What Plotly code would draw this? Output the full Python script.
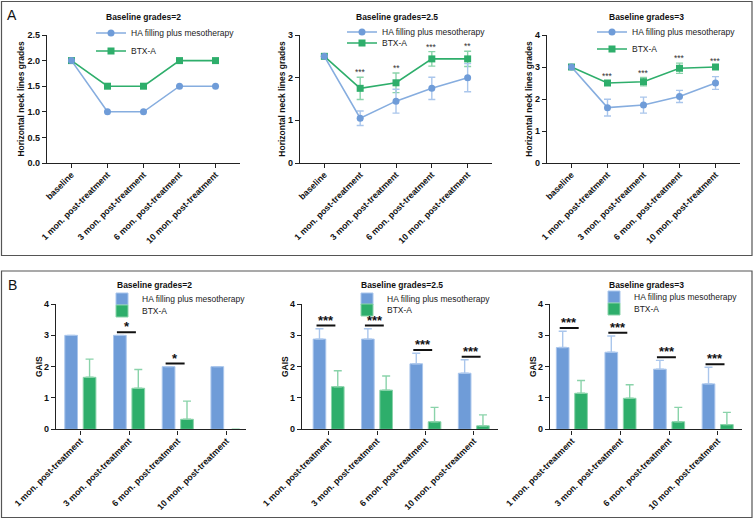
import plotly.graph_objects as go

# ---------------- data ----------------
cats_A = ["baseline", "1 mon. post-treatment", "3 mon. post-treatment",
          "6 mon. post-treatment", "10 mon. post-treatment"]
cats_B = ["1 mon. post-treatment", "3 mon. post-treatment",
          "6 mon. post-treatment", "10 mon. post-treatment"]
titles = ["Baseline grades=2", "Baseline grades=2.5", "Baseline grades=3"]
series_names = ["HA filling plus mesotherapy", "BTX-A"]

# Panel A: horizontal neck lines grades (mean, SD)
A1_ha = [2.0, 1.0, 1.0, 1.5, 1.5]
A1_ha_sd = [0, 0, 0, 0, 0]
A1_btx = [2.0, 1.5, 1.5, 2.0, 2.0]
A1_btx_sd = [0, 0, 0, 0, 0]
A1_sig = ["", "", "", "", ""]

A2_ha = [2.5, 1.05, 1.45, 1.75, 2.0]
A2_ha_sd = [0, 0.17, 0.28, 0.26, 0.33]
A2_btx = [2.5, 1.75, 1.88, 2.44, 2.44]
A2_btx_sd = [0, 0.26, 0.23, 0.17, 0.18]
A2_sig = ["", "***", "**", "***", "**"]

A3_ha = [3.0, 1.73, 1.81, 2.08, 2.5]
A3_ha_sd = [0, 0.26, 0.25, 0.19, 0.2]
A3_btx = [3.0, 2.5, 2.54, 2.96, 3.0]
A3_btx_sd = [0, 0.05, 0.13, 0.16, 0.04]
A3_sig = ["", "***", "***", "***", "***"]

# Panel B: GAIS (mean, SD)
B1_ha = [3.0, 3.0, 2.0, 2.0]
B1_ha_sd = [0, 0, 0, 0]
B1_btx = [1.66, 1.31, 0.32, 0.0]
B1_btx_sd = [0.58, 0.6, 0.58, 0]
B1_sig = ["", "*", "*", ""]

B2_ha = [2.88, 2.88, 2.09, 1.79]
B2_ha_sd = [0.33, 0.33, 0.34, 0.43]
B2_btx = [1.36, 1.25, 0.24, 0.11]
B2_btx_sd = [0.51, 0.45, 0.46, 0.35]
B2_sig = ["***", "***", "***", "***"]

B3_ha = [2.61, 2.46, 1.92, 1.45]
B3_ha_sd = [0.52, 0.52, 0.28, 0.53]
B3_btx = [1.15, 0.99, 0.24, 0.15]
B3_btx_sd = [0.41, 0.43, 0.46, 0.39]
B3_sig = ["***", "***", "***", "***"]

A_panels = [(A1_ha, A1_ha_sd, A1_btx, A1_btx_sd, A1_sig),
            (A2_ha, A2_ha_sd, A2_btx, A2_btx_sd, A2_sig),
            (A3_ha, A3_ha_sd, A3_btx, A3_btx_sd, A3_sig)]
B_panels = [(B1_ha, B1_ha_sd, B1_btx, B1_btx_sd, B1_sig),
            (B2_ha, B2_ha_sd, B2_btx, B2_btx_sd, B2_sig),
            (B3_ha, B3_ha_sd, B3_btx, B3_btx_sd, B3_sig)]

# ---------------- style ----------------
W, H = 755, 520
FONT = "Liberation Sans, Arial, sans-serif"
BLUE = "#6f9cd8"
BLUE_LINE = "#86addf"
BLUE_ERR = "#aac6ec"
GREEN = "#2eae6b"
GREEN_ERR = "#8ad3aa"
AXC = "#222222"


def px(xp):
    return xp / W


def py(yp):
    return 1 - yp / H


def nz(v):
    return [s if s else None for s in v]


fig = go.Figure()

# layout geometry (pixels)
A_xdom = [(47, 240), (300, 492), (547, 740)]
A_ydom = (163, 35)
A_yr = [2.5, 3, 4]
A_dt = [0.5, 1, 1]
A_title_x = [143, 397, 646]
A_leg_x = [127, 378, 628]
A_leg_y = [(33, 51), (32, 43), (32, 49)]

B_xdom = [(56, 246), (302, 498), (550, 742)]
B_xr = [(-0.5, 3.4), (-0.55, 3.5), (-0.45, 3.5)]
B_ydom = (429.3, 304)
B_title_x = [154, 402, 646]
B_leg_x = [138, 383, 630]
B_leg_y = [(299, 311), (299, 310), (297, 309)]

axis_common = dict(showline=True, linecolor=AXC, linewidth=1.4, ticks="outside",
                   ticklen=4, tickwidth=1.3, tickcolor=AXC, showgrid=False,
                   zeroline=False, automargin=False,
                   tickfont=dict(family=FONT, size=9, color="#111", weight="bold"))
xtick_font = dict(family=FONT, size=8.8, color="#111", weight="bold")

annotations = []
shapes = []
legends = {}
li = 0


def legend_cfg(xp, yp):
    return dict(x=px(xp - 36), y=py(yp), xanchor="left", yanchor="middle",
                bgcolor="rgba(0,0,0,0)", borderwidth=0, visible=True,
                font=dict(family=FONT, size=8.5, color="#222"),
                itemwidth=30, tracegroupgap=0)


for i, (ha, ha_sd, btx, btx_sd, sig) in enumerate(A_panels):
    n = i + 1
    xa, ya = f"x{n}", f"y{n}"
    idx = list(range(len(cats_A)))
    lg1 = "legend" if li == 0 else f"legend{li + 1}"
    lg2 = f"legend{li + 2}"
    li += 2
    fig.add_trace(go.Scatter(
        x=idx, y=btx, name=series_names[1], mode="lines+markers", xaxis=xa, yaxis=ya,
        line=dict(color=GREEN, width=1.6), marker=dict(symbol="square", size=7, color=GREEN),
        error_y=dict(type="data", array=nz(btx_sd), visible=True, color=GREEN_ERR,
                     thickness=1.4, width=3.5),
        legend=lg2, showlegend=True))
    fig.add_trace(go.Scatter(
        x=idx, y=ha, name=series_names[0], mode="lines+markers", xaxis=xa, yaxis=ya,
        line=dict(color=BLUE_LINE, width=1.6), marker=dict(symbol="circle", size=7, color=BLUE),
        error_y=dict(type="data", array=nz(ha_sd), visible=True, color=BLUE_ERR,
                     thickness=1.4, width=3.5),
        legend=lg1, showlegend=True))
    legends[lg1] = legend_cfg(A_leg_x[i], A_leg_y[i][0])
    legends[lg2] = legend_cfg(A_leg_x[i], A_leg_y[i][1])
    # significance stars
    for k, s in enumerate(sig):
        if s:
            top = max(ha[k] + ha_sd[k], btx[k] + btx_sd[k])
            annotations.append(dict(x=idx[k], y=top, xref=xa, yref=ya, text=s, showarrow=False,
                                    yanchor="bottom", yshift=-2,
                                    font=dict(family=FONT, size=8.5, color="#333")))
    d0, d1 = A_xdom[i]
    fig.update_layout(**{
        f"xaxis{n}": dict(axis_common, domain=[px(d0), px(d1)], anchor=ya,
                          range=[-0.68, 4.68], tickmode="array", tickvals=idx,
                          ticktext=cats_A, tickangle=-45, tickfont=xtick_font,
                          ticklabelstandoff=-2),
        f"yaxis{n}": dict(axis_common, domain=[py(A_ydom[0]), py(A_ydom[1])], anchor=xa,
                          range=[0, A_yr[i]], dtick=A_dt[i], tick0=0,
                          tickformat=".1f" if A_dt[i] < 1 else "d",
                          title=dict(text="Horizontal neck lines grades", standoff=1,
                                     font=dict(family=FONT, size=8.5, color="#111", weight="bold"))),
    })
    annotations.append(dict(x=px(A_title_x[i]), y=py(16.5), xref="paper", yref="paper",
                            text=titles[i], showarrow=False, xanchor="center", yanchor="middle",
                            font=dict(family=FONT, size=8.5, color="#111", weight="bold")))

for i, (ha, ha_sd, btx, btx_sd, sig) in enumerate(B_panels):
    n = i + 4
    xa, ya = f"x{n}", f"y{n}"
    idx = list(range(len(cats_B)))
    lg1 = f"legend{li + 1}"
    lg2 = f"legend{li + 2}"
    li += 2
    fig.add_trace(go.Bar(
        x=idx, y=ha, name=series_names[0], xaxis=xa, yaxis=ya,
        marker=dict(color=BLUE, line=dict(color=BLUE_ERR, width=[1 if v else 0 for v in ha])),
        error_y=dict(type="data", symmetric=False, array=nz(ha_sd), arrayminus=[0] * len(ha),
                     visible=True, color=BLUE_ERR, thickness=1.4, width=4),
        legend=lg1, showlegend=True, offsetgroup="ha"))
    fig.add_trace(go.Bar(
        x=idx, y=btx, name=series_names[1], xaxis=xa, yaxis=ya,
        marker=dict(color=GREEN, line=dict(color=GREEN_ERR, width=[1 if v else 0 for v in btx])),
        error_y=dict(type="data", symmetric=False, array=nz(btx_sd), arrayminus=[0] * len(btx),
                     visible=True, color=GREEN_ERR, thickness=1.4, width=4),
        legend=lg2, showlegend=True, offsetgroup="btx"))
    legends[lg1] = legend_cfg(B_leg_x[i], B_leg_y[i][0])
    legends[lg2] = legend_cfg(B_leg_x[i], B_leg_y[i][1])
    for k, s in enumerate(sig):
        if s:
            ly = ha[k] + ha_sd[k] + 0.1
            shapes.append(dict(type="line", xref=xa, yref=ya, x0=idx[k] - 0.25, x1=idx[k] + 0.14,
                               y0=ly, y1=ly, line=dict(color="#111", width=2)))
            annotations.append(dict(x=idx[k] - 0.05, y=ly, xref=xa, yref=ya, text=s,
                                    showarrow=False, yanchor="bottom", yshift=-4,
                                    font=dict(family=FONT, size=13, color="#111", weight="bold")))
    d0, d1 = B_xdom[i]
    fig.update_layout(**{
        f"xaxis{n}": dict(axis_common, domain=[px(d0), px(d1)], anchor=ya,
                          range=list(B_xr[i]), tickmode="array", tickvals=idx,
                          ticktext=cats_B, tickangle=-45, tickfont=xtick_font,
                          ticklabelstandoff=-2),
        f"yaxis{n}": dict(axis_common, domain=[py(B_ydom[0]), py(B_ydom[1])], anchor=xa,
                          range=[0, 4], dtick=1, tick0=0,
                          title=dict(text="GAIS", standoff=0,
                                     font=dict(family=FONT, size=8.5, color="#111", weight="bold"))),
    })
    annotations.append(dict(x=px(B_title_x[i]), y=py(285), xref="paper", yref="paper",
                            text=titles[i], showarrow=False, xanchor="center", yanchor="middle",
                            font=dict(family=FONT, size=8.5, color="#111", weight="bold")))

# panel letters
annotations.append(dict(x=px(12), y=py(15), xref="paper", yref="paper", text="A",
                        showarrow=False, xanchor="center", yanchor="middle",
                        font=dict(family=FONT, size=14, color="#111")))
annotations.append(dict(x=px(12), y=py(285), xref="paper", yref="paper", text="B",
                        showarrow=False, xanchor="center", yanchor="middle",
                        font=dict(family=FONT, size=14, color="#111")))

# panel frames
shapes.append(dict(type="rect", xref="paper", yref="paper", x0=px(1.5), x1=px(752),
                   y0=py(255.5), y1=py(1.5), line=dict(color="#555", width=1.2)))
shapes.append(dict(type="rect", xref="paper", yref="paper", x0=px(1.5), x1=px(752),
                   y0=py(517.5), y1=py(271), line=dict(color="#555", width=1.2)))

fig.update_layout(
    width=W, height=H, margin=dict(l=0, r=0, t=0, b=0, autoexpand=False),
    paper_bgcolor="white", plot_bgcolor="white", showlegend=True,
    barmode="group", bargap=0.244, bargroupgap=0.31,
    font=dict(family=FONT, size=9, color="#111"),
    annotations=annotations, shapes=shapes,
    **legends,
)

fig.write_html("out.html", config={"displayModeBar": False},
               post_script="document.body.style.margin='0';")
